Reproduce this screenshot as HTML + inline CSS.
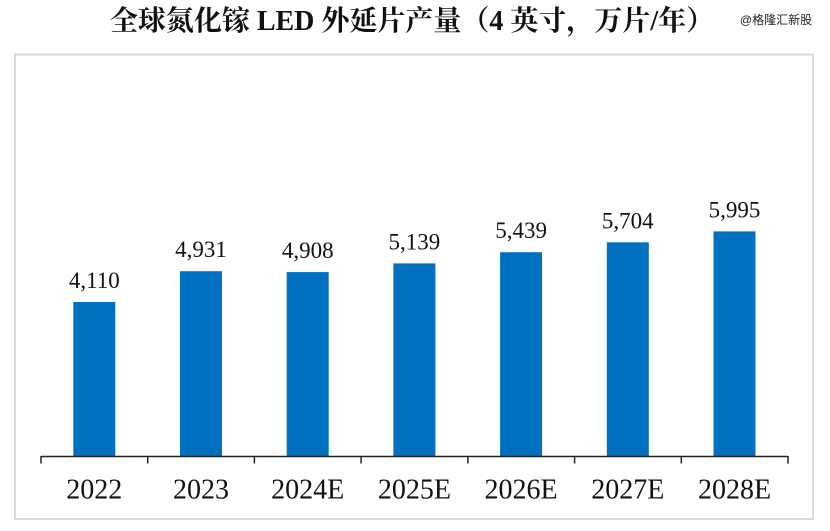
<!DOCTYPE html>
<html><head><meta charset="utf-8"><style>
html,body{margin:0;padding:0;background:#fff;}
body{width:830px;height:531px;overflow:hidden;position:relative;}
</style></head><body>
<svg width="830" height="531" viewBox="0 0 830 531" xmlns="http://www.w3.org/2000/svg" style="position:absolute;left:0;top:0">
<rect x="15" y="54.5" width="798" height="464.5" fill="#fff" stroke="#d9d9d9" stroke-width="2"/>
<text x="412" y="30" text-anchor="middle" font-family="'Liberation Serif','Noto Serif CJK SC',serif" font-weight="bold" font-size="28" fill="#111">全球氮化镓 LED 外延片产量（4 英寸，万片/年）</text>
<text x="776" y="24" text-anchor="middle" font-family="'Liberation Sans','Noto Sans CJK SC',sans-serif" font-size="12" fill="#222">@格隆汇新股</text>
<g fill="#0070c0">
<rect x="73.3" y="302.0" width="42" height="154.0"/>
<rect x="180.0" y="271.2" width="42" height="184.8"/>
<rect x="286.7" y="272.1" width="42" height="183.9"/>
<rect x="393.4" y="263.4" width="42" height="192.6"/>
<rect x="500.1" y="252.2" width="42" height="203.8"/>
<rect x="606.8" y="242.3" width="42" height="213.7"/>
<rect x="713.5" y="231.4" width="42" height="224.6"/>
</g>
<g stroke="#222" stroke-width="1.5" fill="none">
<line x1="41" y1="456.5" x2="788" y2="456.5"/>
<line x1="41" y1="456" x2="41" y2="463.5"/>
<line x1="147.7" y1="456" x2="147.7" y2="463.5"/>
<line x1="254.4" y1="456" x2="254.4" y2="463.5"/>
<line x1="361.1" y1="456" x2="361.1" y2="463.5"/>
<line x1="467.9" y1="456" x2="467.9" y2="463.5"/>
<line x1="574.6" y1="456" x2="574.6" y2="463.5"/>
<line x1="681.3" y1="456" x2="681.3" y2="463.5"/>
<line x1="788" y1="456" x2="788" y2="463.5"/>
</g>
<g font-family="'Liberation Serif',serif" font-size="23" fill="#111" text-anchor="middle">
<text x="94.3" y="288">4,110</text>
<text x="201.0" y="257.2">4,931</text>
<text x="307.7" y="258.1">4,908</text>
<text x="414.4" y="249.4">5,139</text>
<text x="521.1" y="238.2">5,439</text>
<text x="627.8" y="228.3">5,704</text>
<text x="734.5" y="217.4">5,995</text>
</g>
<g font-family="'Liberation Serif',serif" font-size="28" fill="#111" text-anchor="middle">
<text x="94.3" y="498.5">2022</text>
<text x="201.0" y="498.5">2023</text>
<text x="307.7" y="498.5">2024E</text>
<text x="414.4" y="498.5">2025E</text>
<text x="521.1" y="498.5">2026E</text>
<text x="627.8" y="498.5">2027E</text>
<text x="734.5" y="498.5">2028E</text>
</g>
</svg>
</body></html>
